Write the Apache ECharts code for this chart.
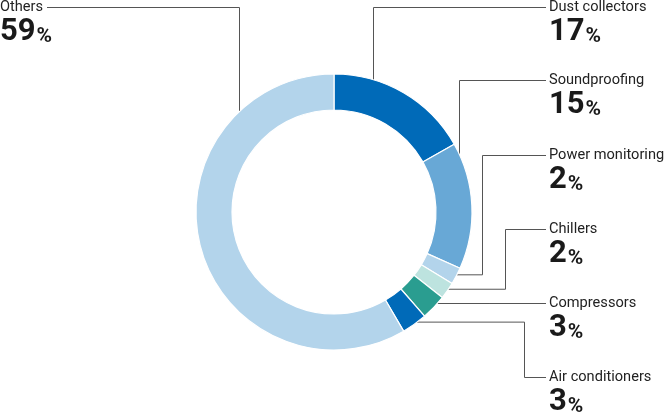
<!DOCTYPE html>
<html>
<head>
<meta charset="utf-8">
<script src="https://cdn.jsdelivr.net/npm/echarts@6/dist/echarts.min.js"></script>
<style>
html,body{margin:0;padding:0;background:#fff;}
#chart{width:666px;height:414px;}
</style>
</head>
<body>
<div id="chart"></div>
<script>
// ---- data ----
var categories = ['Dust collectors', 'Soundproofing', 'Power monitoring', 'Chillers', 'Compressors', 'Air conditioners', 'Others'];
var shares = [17, 15, 2, 2, 3, 3, 59];

// ---- styles / layout (not data) ----
var colors = ['#006ab8', '#68a8d6', '#b3d4eb', '#bde3df', '#2a9d90', '#006ab8', '#b3d4eb'];
var CX = 334, CY = 212, R_IN = 102, R_OUT = 138, R_LINE = 135.5;
var labelX   = [549, 549, 549, 549, 549, 549, 0];
var lineY    = [7.5, 80.5, 155.5, 229.5, 303.5, 377.5, 7.5];
var elbowX   = [373.5, 459.5, 482.5, 505.5, null, 524.5, 239.5];
var mode     = ['v', 'v', 'h', 'h', 'c', 'h', 'v'];
var lineEndX = [546, 546, 546, 546, 546, 546, 47];
var NAME_OFFSET = 9;

var total = shares.reduce(function (a, b) { return a + b; }, 0);
function midAngle(i) {
  var before = 0;
  for (var k = 0; k < i; k++) before += shares[k];
  return (before + shares[i] / 2) / total * 2 * Math.PI;
}

var chart = echarts.init(document.getElementById('chart'), null, { renderer: 'canvas' });
chart.setOption({
  animation: false,
  backgroundColor: '#ffffff',
  color: colors,
  series: [{
    type: 'pie',
    center: [CX, CY],
    radius: [R_IN, R_OUT],
    startAngle: 90,
    clockwise: true,
    avoidLabelOverlap: false,
    emphasis: { disabled: true },
    itemStyle: { borderColor: '#ffffff', borderWidth: 1.2 },
    data: categories.map(function (c, i) { return { name: c, value: shares[i] }; }),
    label: {
      show: true,
      position: 'outside',
      formatter: '{n|{b}}\n{v|{c}}{p|%}',
      rich: {
        n: { fontFamily: 'Roboto', fontSize: 14.6, color: '#222222', lineHeight: 18 },
        v: { fontFamily: 'Roboto', fontSize: 31, fontWeight: 'bold', color: '#1a1a1a', lineHeight: 31, verticalAlign: 'bottom' },
        p: { fontFamily: 'Roboto', fontSize: 21, fontWeight: 'bold', color: '#1a1a1a', lineHeight: 26, verticalAlign: 'bottom', padding: [0, 0, 0, 1] }
      }
    },
    labelLine: { show: true, lineStyle: { color: '#555555', width: 1 } },
    labelLayout: function (params) {
      var i = params.dataIndex;
      var ly = lineY[i];
      var pts;
      if (mode[i] === 'v') {
        var dx = elbowX[i] - CX;
        var sy = CY - Math.sqrt(R_LINE * R_LINE - dx * dx);
        pts = [[elbowX[i], sy], [elbowX[i], ly], [lineEndX[i], ly]];
      } else if (mode[i] === 'h') {
        var a = midAngle(i);
        var px = CX + R_LINE * Math.sin(a);
        var py = CY - R_LINE * Math.cos(a);
        pts = [[px, py], [elbowX[i], py], [elbowX[i], ly], [lineEndX[i], ly]];
      } else {
        var dy = ly - CY;
        var sx = CX + Math.sqrt(R_LINE * R_LINE - dy * dy);
        pts = [[sx, ly], [(sx + lineEndX[i]) / 2, ly], [lineEndX[i], ly]];
      }
      return {
        x: labelX[i],
        y: ly - NAME_OFFSET,
        align: 'left',
        verticalAlign: 'top',
        labelLinePoints: pts
      };
    }
  }]
});
</script>
</body>
</html>
